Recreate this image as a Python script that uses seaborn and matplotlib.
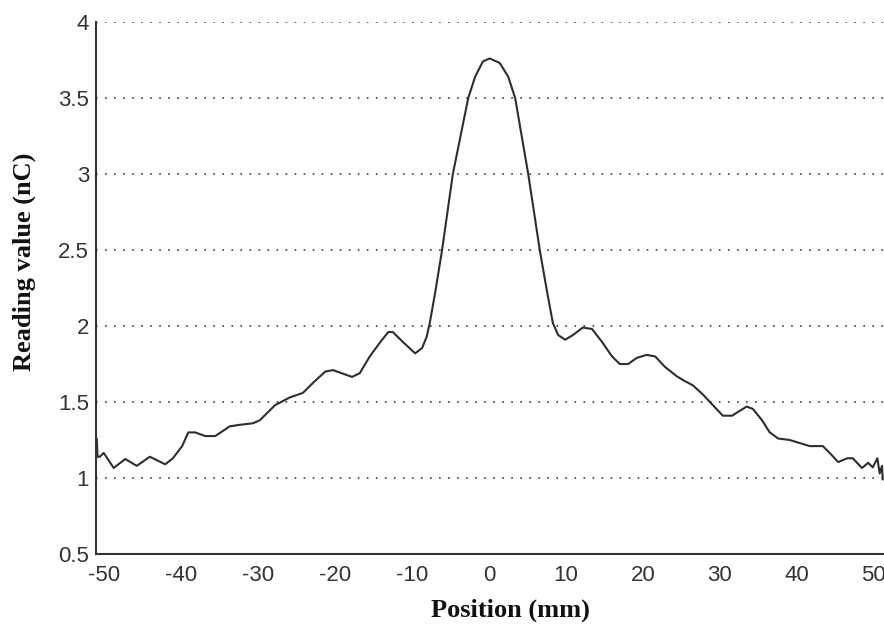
import matplotlib
matplotlib.use("Agg")
import matplotlib.pyplot as plt
import numpy as np
import pandas as pd
import seaborn as sns

# Charge reading across the scan position
position_mm = [
    -51.0, -50.9, -50.6, -50.1, -49.5, -48.8, -47.3, -45.8, -44.1, -42.1,
    -41.1, -39.9, -39.1, -38.2, -36.9, -35.6, -33.7, -32.4, -30.7, -29.8,
    -27.8, -25.9, -24.2, -22.9, -21.3, -20.3, -17.8, -16.8, -15.5, -14.2,
    -13.1, -12.5, -11.2, -9.6, -8.7, -8.1, -7.7, -7.0, -6.1, -4.7,
    -2.7, -1.8, -0.8, 0.1, 1.4, 2.5, 3.4, 5.1, 6.6, 7.5,
    8.3, 9.0, 9.9, 10.9, 12.2, 13.4, 14.7, 16.0, 17.0, 18.1,
    19.2, 20.5, 21.6, 22.9, 24.4, 25.2, 26.5, 27.8, 29.1, 30.4,
    31.6, 33.5, 34.3, 35.5, 36.5, 37.6, 39.1, 40.4, 41.7, 43.4,
    44.3, 45.4, 46.6, 47.3, 48.5, 49.3, 49.9, 50.5, 50.8, 51.1,
    51.2,
]
reading_nC = [
    1.26, 1.14, 1.14, 1.165, 1.12, 1.066, 1.125, 1.08, 1.14, 1.09,
    1.13, 1.21, 1.30, 1.30, 1.276, 1.276, 1.34, 1.35, 1.36, 1.38,
    1.48, 1.53, 1.56, 1.625, 1.70, 1.71, 1.665, 1.69, 1.80, 1.89,
    1.96, 1.96, 1.895, 1.82, 1.855, 1.93, 2.02, 2.22, 2.50, 3.00,
    3.50, 3.64, 3.74, 3.76, 3.73, 3.64, 3.50, 3.00, 2.50, 2.24,
    2.02, 1.94, 1.91, 1.94, 1.99, 1.98, 1.895, 1.80, 1.75, 1.75,
    1.79, 1.81, 1.80, 1.73, 1.67, 1.645, 1.61, 1.55, 1.48, 1.41,
    1.41, 1.47, 1.455, 1.38, 1.30, 1.26, 1.25, 1.23, 1.21, 1.21,
    1.165, 1.105, 1.13, 1.13, 1.066, 1.10, 1.07, 1.13, 1.03, 1.08,
    0.99,
]
x_ticks = [-50, -40, -30, -20, -10, 0, 10, 20, 30, 40, 50]
y_ticks = [0.5, 1, 1.5, 2, 2.5, 3, 3.5, 4]
y_tick_labels = ["0.5", "1", "1.5", "2", "2.5", "3", "3.5", "4"]

df = pd.DataFrame({"Position (mm)": position_mm, "Reading value (nC)": reading_nC})

sns.set_style("white")
plt.rcParams["axes.unicode_minus"] = False

fig = plt.figure(figsize=(8.84, 6.28), dpi=100)
ax = fig.add_axes([0.1086, 0.1178, 0.8914, 0.8472])

sns.lineplot(data=df, x="Position (mm)", y="Reading value (nC)", ax=ax,
             color="#2e2e2e", linewidth=1.5, sort=False)

ax.set_xlim(-51.1, 51.36)
ax.set_ylim(0.5, 4)
ax.set_xticks(x_ticks)
ax.set_xticklabels([str(t) for t in x_ticks])
ax.set_yticks(y_ticks)
ax.set_yticklabels(y_tick_labels)

# Dotted horizontal grid only
for yv in y_ticks[1:]:
    ax.axhline(yv, color="#4a4a4a", linewidth=1.3, linestyle=(0, (0.9, 4.1)), zorder=0)

for side in ("top", "right"):
    ax.spines[side].set_visible(False)
for side in ("left", "bottom"):
    ax.spines[side].set_color("#333333")
    ax.spines[side].set_linewidth(1.5)

ax.tick_params(axis="both", direction="in", length=6, width=1.3, color="#333333",
               labelcolor="#333333", labelsize=16)
ax.tick_params(axis="x", pad=8)
ax.tick_params(axis="y", pad=5)
for lbl in ax.get_xticklabels() + ax.get_yticklabels():
    lbl.set_fontfamily("Liberation Sans")

ax.set_xlabel("Position (mm)", fontfamily="Liberation Serif", fontweight="bold",
              fontsize=19, color="#111111")
ax.set_ylabel("Reading value (nC)", fontfamily="Liberation Serif", fontweight="bold",
              fontsize=19, color="#111111")
ax.xaxis.set_label_coords(0.526, -0.084)
ax.yaxis.set_label_coords(-0.076, 0.55)

fig.savefig("out.png", dpi=100, facecolor="white")
